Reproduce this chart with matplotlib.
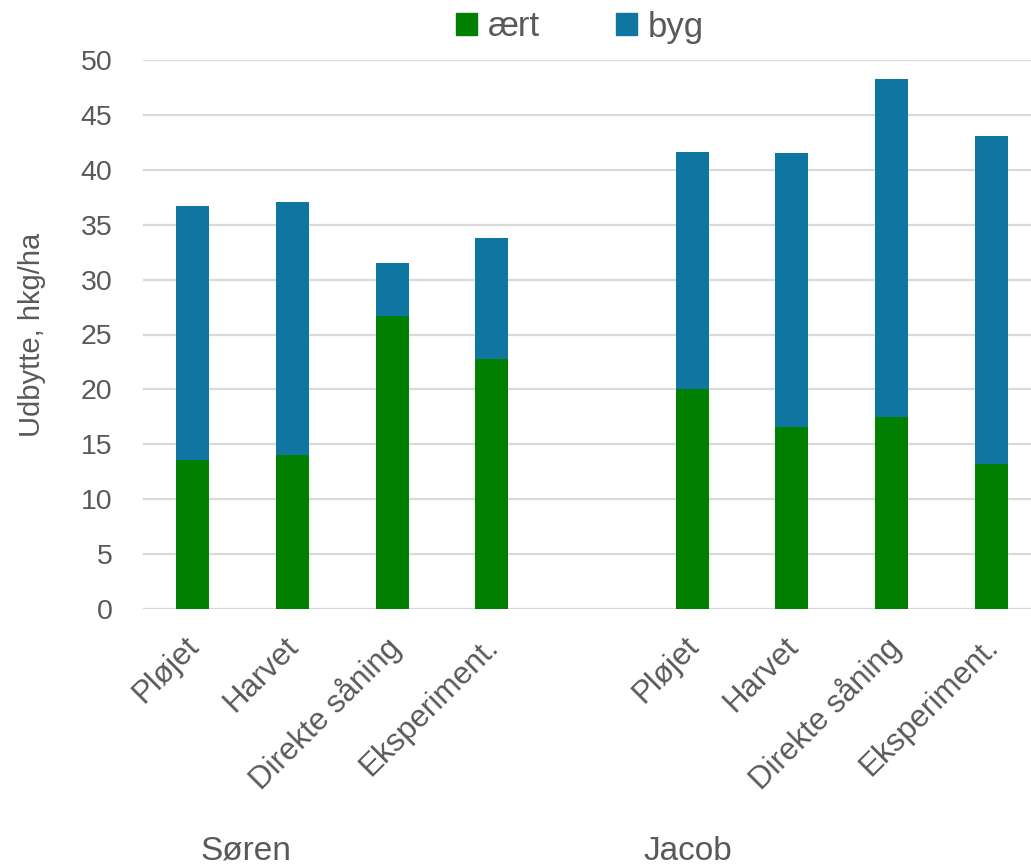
import numpy as np
import matplotlib
matplotlib.use('Agg')
import matplotlib.pyplot as plt
from matplotlib.patches import Patch
from matplotlib.transforms import blended_transform_factory, ScaledTranslation

plt.rcParams['font.family'] = ['Liberation Sans', 'DejaVu Sans']

# Udbytte pr. behandling (hkg/ha); tom plads mellem de to landmænd
behandlinger = ['Pløjet', 'Harvet', 'Direkte såning', 'Eksperiment.']
landmaend = ['Søren', 'Jacob']
aert_soren = [13.6, 14.0, 26.7, 22.8]
byg_soren = [23.1, 23.1, 4.8, 11.0]
aert_jacob = [20.0, 16.6, 17.5, 13.2]
byg_jacob = [21.6, 24.9, 30.8, 29.9]

GREEN = '#008000'
BLUE = '#0E76A0'
TEXT = '#595959'
GRID = '#D9D9D9'

labels = behandlinger + [''] + behandlinger
aert = aert_soren + [np.nan] + aert_jacob
byg = byg_soren + [np.nan] + byg_jacob
x = np.arange(len(labels))
used = [i for i, l in enumerate(labels) if l]

fig = plt.figure(figsize=(10.31, 8.65), dpi=100)
ax = fig.add_axes([143 / 1031, 256 / 865, 888 / 1031, 549 / 865])

ax.bar(x, aert, width=0.33, color=GREEN, zorder=3)
ax.bar(x, byg, width=0.33, bottom=aert, color=BLUE, zorder=3)

ax.set_xlim(-0.49, 8.39)
ax.set_ylim(0, 50)
ax.set_yticks(np.arange(0, 51, 5))
ax.yaxis.grid(True, color=GRID, linewidth=1.6, zorder=0)
ax.set_axisbelow(True)
for s in ax.spines.values():
    s.set_visible(False)

ax.tick_params(axis='y', length=0, pad=22, labelsize=20.5, labelcolor=TEXT)
ax.tick_params(axis='x', length=0, pad=16, labelsize=22.5, labelcolor=TEXT)
ax.set_xticks(x[used])
ax.set_xticklabels([labels[i] for i in used],
                   rotation=45, ha='right', rotation_mode='anchor')
shift = ScaledTranslation(-6 / 72, 0, fig.dpi_scale_trans)
for t in ax.get_xticklabels():
    t.set_transform(t.get_transform() + shift)

ax.set_ylabel('Udbytte, hkg/ha', fontsize=21, color=TEXT, labelpad=25)

# Navne på landmændene under behandlingerne
trans = blended_transform_factory(ax.transData, fig.transFigure)
for name, xpos in zip(landmaend, [0.54, 4.96]):
    ax.text(xpos, 14 / 865, name, transform=trans, ha='center', va='center',
            fontsize=24, color=TEXT)

handles = [Patch(color=GREEN, label='ært'), Patch(color=BLUE, label='byg')]
fig.legend(handles=handles, loc='center', bbox_to_anchor=(580 / 1031, 1 - 27 / 865),
           ncol=2, frameon=False, fontsize=25, labelcolor=TEXT,
           handlelength=0.6, handleheight=0.6, handletextpad=0.32,
           columnspacing=2.2, borderpad=0)

fig.savefig('out.png', dpi=100, facecolor='white')
